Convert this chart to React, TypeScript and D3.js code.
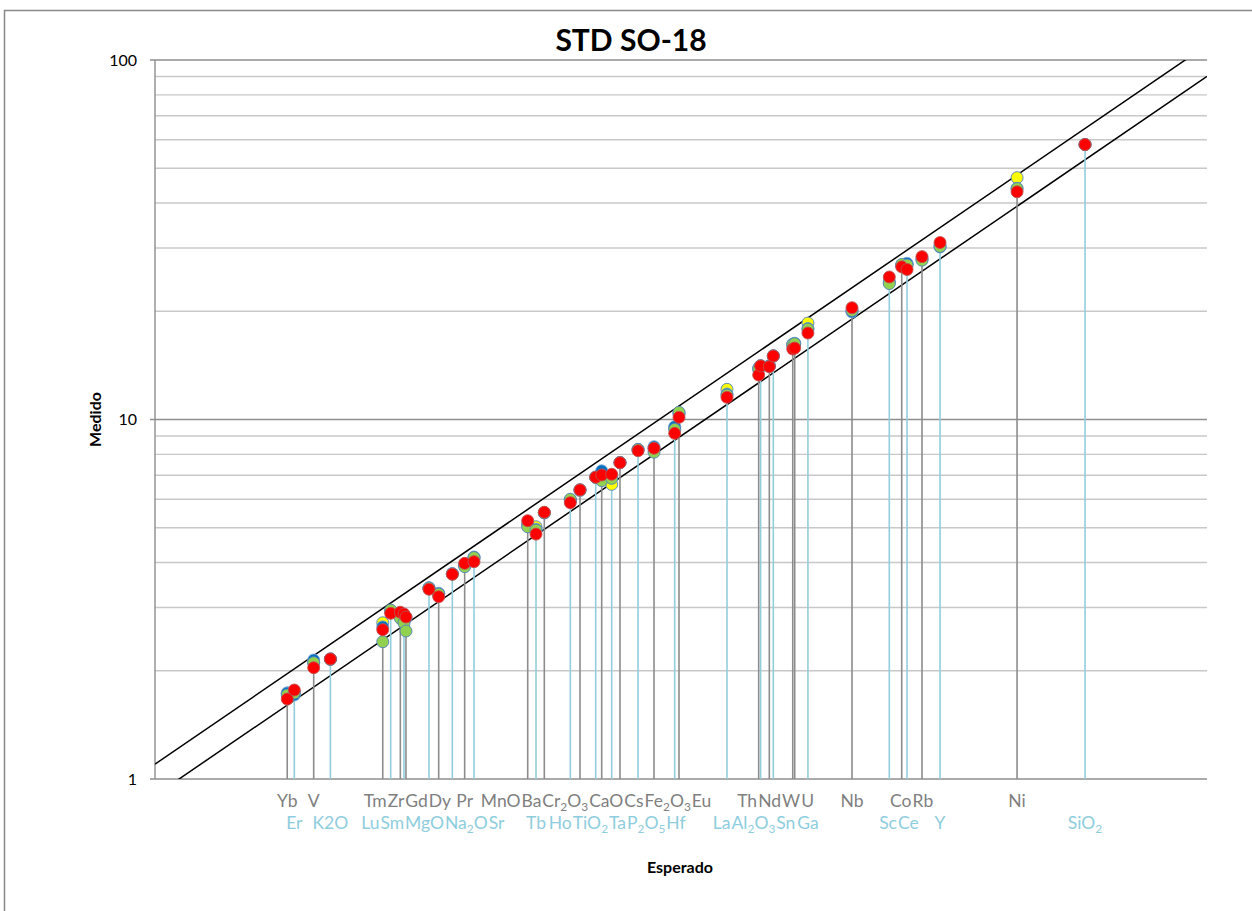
import React, { useMemo } from "react";
import * as d3 from "d3";

const WIDTH = 1252;
const HEIGHT = 911;
const PLOT = { left: 155, right: 1207, top: 60, bottom: 779 };
const FONT = "Lato, 'Open Sans', sans-serif";

// ---- data ----
const categories = [
  "Yb", "Er", "V", "K2O", "Tm", "Lu", "Zr", "Sm", "Gd", "MgO",
  "Dy", "Na_2O", "Pr", "Sr", "MnO", "Tb", "Ba", "Ho", "Cr_2O_3", "TiO_2",
  "CaO", "Ta", "Cs", "P_2O_5", "Fe_2O_3", "Hf", "Eu", "La", "Th", "Al_2O_3",
  "Nd", "Sn", "W", "U", "Ga", "Nb", "Sc", "Co", "Ce", "Rb",
  "Y", "Ni", "SiO_2",
];
// 0 = gray (upper row), 1 = light blue (lower row)
const labelGroup = [
  0, 1, 0, 1, 0, 1, 0, 1, 0, 1,
  0, 1, 0, 1, 0, 1, 0, 1, 0, 1,
  0, 1, 0, 1, 0, 1, 0, 1, 0, 1,
  0, 1, 0, 0, 1, 0, 1, 0, 1, 0,
  1, 0, 1,
];
const expected = [
  1.784, 1.84, 2.003, 2.155, 2.71, 2.806, 2.927, 2.974, 3.0, 3.318,
  3.462, 3.675, 3.879, 4.041, 5.112, 5.301, 5.497, 6.16, 6.427, 6.884,
  7.067, 7.383, 7.656, 8.286, 8.886, 9.728, 9.913, 12.23, 14.05, 14.17,
  14.72, 14.98, 16.31, 16.45, 17.43, 21.14, 24.89, 26.28, 26.9, 28.72,
  31.08, 43.54, 58.63,
];
const measuredYellow = [
  1.735, 1.735, 2.11, 2.15, 2.72, 2.93, 2.88, 2.86, 2.82, 3.4,
  3.27, 3.72, 3.92, 4.12, 5.1, 5.03, 5.5, 5.95, 6.35, 6.91,
  6.86, 6.6, 7.58, 8.24, 8.3, 9.5, 10.4, 12.13, 13.8, 14.1,
  14.1, 15.0, 16.1, 16.2, 18.55, 20.0, 24.2, 26.8, 27.0, 28.0,
  30.3, 47.06, 58.17,
];
const measuredBlue = [
  1.735, 1.713, 2.143, 2.16, 2.65, 2.93, 2.85, 2.86, 2.8, 3.4,
  3.286, 3.73, 3.93, 4.145, 5.12, 4.95, 5.5, 5.97, 6.36, 6.92,
  7.2, 6.95, 7.6, 8.25, 8.4, 9.55, 10.37, 11.78, 13.88, 14.12,
  14.1, 15.05, 16.19, 16.3, 17.9, 19.91, 24.0, 26.8, 27.2, 27.9,
  30.18, 43.97, 58.2,
];
const measuredGreen = [
  1.713, 1.735, 2.107, 2.155, 2.409, 2.95, 2.8, 2.716, 2.58, 3.4,
  3.27, 3.72, 3.896, 4.13, 5.03, 4.93, 5.5, 6.0, 6.38, 6.9,
  6.76, 6.86, 7.59, 8.26, 8.11, 9.39, 10.47, 11.7, 13.88, 14.1,
  14.08, 15.03, 16.19, 16.25, 17.85, 20.1, 23.88, 27.0, 26.9, 27.74,
  30.3, 43.9, 58.15,
];
const measuredRed = [
  1.669, 1.768, 2.04, 2.157, 2.602, 2.89, 2.91, 2.877, 2.822, 3.372,
  3.215, 3.71, 3.98, 4.023, 5.23, 4.8, 5.52, 5.87, 6.37, 6.91,
  7.01, 7.04, 7.58, 8.19, 8.32, 9.15, 10.14, 11.53, 13.3, 14.09,
  14.03, 15.02, 15.71, 15.8, 17.4, 20.46, 24.91, 26.58, 26.14, 28.38,
  31.05, 42.99, 58.17,
];
const seriesList = [
  { name: "A", values: measuredYellow, fill: "#FFFF00", stroke: "#4F81BD" },
  { name: "B", values: measuredBlue, fill: "#0070C0", stroke: "#7FA7D6" },
  { name: "C", values: measuredGreen, fill: "#92D050", stroke: "#4F81BD" },
  { name: "D", values: measuredRed, fill: "#FF0000", stroke: "#C0504D" },
];
const yTickValues = [1, 10, 100];
const toleranceFactors = [1.1, 0.9];
const axisDomain = [1, 100];

// ---- helpers ----
type Seg = { t: string; sub: boolean };
function parseLabel(s: string): Seg[] {
  const out: Seg[] = [];
  let i = 0;
  while (i < s.length) {
    if (s[i] === "_" && i + 1 < s.length) {
      out.push({ t: s[i + 1], sub: true });
      i += 2;
    } else {
      const last = out[out.length - 1];
      if (last && !last.sub) last.t += s[i];
      else out.push({ t: s[i], sub: false });
      i += 1;
    }
  }
  return out;
}

let ctx: CanvasRenderingContext2D | null = null;
function textWidth(segs: Seg[], size: number): number {
  if (!ctx) ctx = document.createElement("canvas").getContext("2d");
  let w = 0;
  for (const s of segs) {
    const fs = s.sub ? size * 0.68 : size;
    if (ctx) {
      ctx.font = `${fs}px ${FONT}`;
      w += ctx.measureText(s.t).width;
    } else w += s.t.length * fs * 0.55;
  }
  return w;
}

type Item = { i: number; x: number; w: number };
function packRow(items: Item[], gap: number): Map<number, number> {
  const sorted = [...items].sort((a, b) => a.x - b.x);
  type C = { items: Item[]; left: number; width: number };
  const clusters: C[] = [];
  for (const it of sorted) {
    clusters.push({ items: [it], left: it.x - it.w / 2, width: it.w });
    while (clusters.length > 1) {
      const a = clusters[clusters.length - 2];
      const b = clusters[clusters.length - 1];
      if (a.left + a.width + gap <= b.left) break;
      const merged = [...a.items, ...b.items];
      let off = 0;
      let sum = 0;
      merged.forEach((m) => {
        sum += m.x - (off + m.w / 2);
        off += m.w + gap;
      });
      clusters.splice(-2, 2, { items: merged, left: sum / merged.length, width: off - gap });
    }
  }
  const pos = new Map<number, number>();
  clusters.forEach((c) => {
    let off = c.left;
    c.items.forEach((m) => {
      pos.set(m.i, off);
      off += m.w + gap;
    });
  });
  return pos;
}

const GRAY_LINE = "#8C8C8C";
const BLUE_LINE = "#92CDDC";
const GRAY_TEXT = "#7F7F7F";
const BLUE_TEXT = "#8ECDDD";
const LABEL_SIZE = 17.5;

export default function App() {
  const x = d3.scaleLog().domain(axisDomain).range([PLOT.left, PLOT.right]);
  const y = d3.scaleLog().domain(axisDomain).range([PLOT.bottom, PLOT.top]);
  const gridValues = y.ticks();
  const isMajor = (v: number) => Math.abs(Math.log10(v) - Math.round(Math.log10(v))) < 1e-9;

  const labels = useMemo(() => {
    const segsAll = categories.map(parseLabel);
    const result: { i: number; left: number; segs: Seg[]; row: number }[] = [];
    [0, 1].forEach((row) => {
      const items: Item[] = [];
      categories.forEach((_, i) => {
        if (labelGroup[i] !== row) return;
        items.push({ i, x: x(expected[i]), w: textWidth(segsAll[i], LABEL_SIZE) });
      });
      const pos = packRow(items, 1);
      items.forEach((it) => result.push({ i: it.i, left: pos.get(it.i)!, segs: segsAll[it.i], row }));
    });
    return result;
  }, []);

  const diag = d3
    .line<number>()
    .x((d) => x(d))
    .y((d) => y(d));

  return (
    <svg
      width={WIDTH}
      height={HEIGHT}
      style={{ position: "absolute", left: 0, top: 0, display: "block", background: "#fff" }}
      fontFamily={FONT}
    >
      <defs>
        <clipPath id="plotClip">
          <rect x={PLOT.left} y={PLOT.top} width={PLOT.right - PLOT.left} height={PLOT.bottom - PLOT.top} />
        </clipPath>
      </defs>
      <rect x={4.5} y={10.5} width={1300} height={1000} fill="#fff" stroke="#898989" strokeWidth={1.5} />

      {/* title */}
      <text x={631} y={51} textAnchor="middle" fontWeight="bold" fontSize={30} fill="#000">
        STD SO-18
      </text>

      {/* gridlines */}
      {gridValues.map((v) => (
        <line
          key={"g" + v}
          x1={isMajor(v) ? PLOT.left - 5 : PLOT.left}
          x2={PLOT.right}
          y1={y(v)}
          y2={y(v)}
          stroke={isMajor(v) ? "#8E8E8E" : "#C8C8C8"}
          strokeWidth={1.4}
        />
      ))}
      <line x1={PLOT.left} x2={PLOT.left} y1={PLOT.top} y2={PLOT.bottom} stroke="#8E8E8E" strokeWidth={1.4} />

      {/* y tick labels */}
      {yTickValues.map((v) => (
        <text key={"t" + v} x={137} y={y(v) + 5.5} textAnchor="end" fontSize={16} fill="#000">
          {v}
        </text>
      ))}

      {/* tolerance lines */}
      <g clipPath="url(#plotClip)">
        {toleranceFactors.map((f) => (
          <path
            key={"d" + f}
            d={diag.y((d) => y(d * f))(axisDomain) || ""}
            fill="none"
            stroke="#000"
            strokeWidth={1.5}
          />
        ))}
      </g>

      {/* drop lines */}
      {categories.map((c, i) => {
        const top = Math.max(measuredYellow[i], measuredBlue[i], measuredGreen[i], measuredRed[i]);
        return (
          <line
            key={"v" + c}
            x1={x(expected[i])}
            x2={x(expected[i])}
            y1={y(top)}
            y2={PLOT.bottom}
            stroke={labelGroup[i] === 0 ? GRAY_LINE : BLUE_LINE}
            strokeWidth={1.6}
          />
        );
      })}

      {/* markers */}
      {seriesList.map((s) => (
        <g key={s.name}>
          {s.values.map((v, i) => (
            <circle
              key={i}
              cx={x(expected[i])}
              cy={y(v)}
              r={6}
              fill={s.fill}
              stroke={s.stroke}
              strokeWidth={0.9}
            />
          ))}
        </g>
      ))}

      {/* category labels */}
      {labels.map((l) => {
        const baseY = l.row === 0 ? 807 : 829;
        let cur = 0;
        return (
          <text
            key={"l" + l.i}
            x={l.left}
            y={baseY}
            fontSize={LABEL_SIZE}
            fill={l.row === 0 ? GRAY_TEXT : BLUE_TEXT}
          >
            {l.segs.map((s, k) => {
              const target = s.sub ? 4 : 0;
              const dy = target - cur;
              cur = target;
              return (
                <tspan key={k} dy={dy} fontSize={s.sub ? LABEL_SIZE * 0.68 : LABEL_SIZE}>
                  {s.t}
                </tspan>
              );
            })}
          </text>
        );
      })}

      {/* axis titles */}
      <text
        transform={`translate(101,${(PLOT.top + PLOT.bottom) / 2}) rotate(-90)`}
        textAnchor="middle"
        fontWeight="bold"
        fontSize={16}
        fill="#000"
      >
        Medido
      </text>
      <text x={680} y={873} textAnchor="middle" fontWeight="bold" fontSize={16} fill="#000">
        Esperado
      </text>
    </svg>
  );
}
